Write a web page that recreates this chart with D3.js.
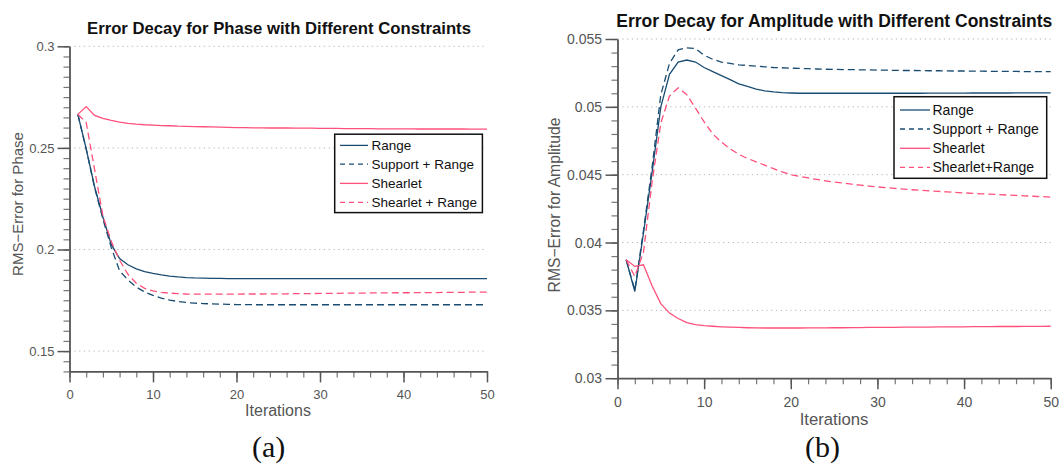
<!DOCTYPE html>
<html>
<head>
<meta charset="utf-8">
<script src="https://cdn.jsdelivr.net/npm/d3@7"></script>
<style>
  body { margin: 0; background: #fff; }
  svg { display: block; }
  text { font-family: "Liberation Sans", Arial, sans-serif; }
</style>
</head>
<body>
<svg id="fig" width="1062" height="466"></svg>
<script>
// Iteration index shared by both panels
const iterations = d3.range(1, 51);
const iterTicks = [0, 10, 20, 30, 40, 50];

// Panel (a): RMS error for phase
const phaseTicks = [0.15, 0.2, 0.25, 0.3];
const phaseRange = [
  0.2665, 0.2495, 0.2310, 0.2160, 0.2025, 0.1955, 0.1925, 0.1905, 0.1891, 0.1882,
  0.1875, 0.1869, 0.1865, 0.1862, 0.1860, 0.1859, 0.1858, 0.1858, 0.1857, 0.1857,
  0.1857, 0.1857, 0.1857, 0.1857, 0.1857, 0.1857, 0.1857, 0.1857, 0.1857, 0.1857,
  0.1857, 0.1857, 0.1857, 0.1857, 0.1857, 0.1857, 0.1857, 0.1857, 0.1857, 0.1857,
  0.1857, 0.1857, 0.1857, 0.1857, 0.1857, 0.1857, 0.1857, 0.1857, 0.1857, 0.1857
];
const phaseSupportRange = [
  0.2665, 0.2495, 0.2305, 0.2150, 0.2010, 0.1895, 0.1850, 0.1815, 0.1791, 0.1774,
  0.1761, 0.1751, 0.1744, 0.1739, 0.1736, 0.1734, 0.1732, 0.1731, 0.1730, 0.1729,
  0.1729, 0.1728, 0.1728, 0.1728, 0.1728, 0.1728, 0.1728, 0.1728, 0.1728, 0.1728,
  0.1728, 0.1728, 0.1728, 0.1728, 0.1728, 0.1728, 0.1728, 0.1728, 0.1728, 0.1728,
  0.1728, 0.1728, 0.1728, 0.1728, 0.1728, 0.1728, 0.1728, 0.1728, 0.1728, 0.1728
];
const phaseShearlet = [
  0.2665, 0.2703, 0.2660, 0.2645, 0.2635, 0.2627, 0.2621, 0.2617, 0.2614, 0.2612,
  0.2610, 0.2609, 0.2607, 0.2606, 0.2605, 0.2604, 0.2603, 0.2602, 0.2601, 0.2600,
  0.2600, 0.2599, 0.2599, 0.2598, 0.2598, 0.2598, 0.2597, 0.2597, 0.2597, 0.2596,
  0.2596, 0.2596, 0.2595, 0.2595, 0.2595, 0.2595, 0.2594, 0.2594, 0.2594, 0.2594,
  0.2594, 0.2593, 0.2593, 0.2593, 0.2593, 0.2593, 0.2593, 0.2592, 0.2592, 0.2592
];
const phaseShearletRange = [
  0.2665, 0.2625, 0.2395, 0.2165, 0.2040, 0.1947, 0.1878, 0.1834, 0.1809, 0.1796,
  0.1789, 0.1785, 0.1783, 0.1781, 0.1780, 0.1780, 0.1780, 0.1780, 0.1780, 0.1780,
  0.1781, 0.1781, 0.1781, 0.1782, 0.1782, 0.1782, 0.1783, 0.1783, 0.1783, 0.1784,
  0.1784, 0.1784, 0.1785, 0.1785, 0.1785, 0.1786, 0.1786, 0.1786, 0.1787, 0.1787,
  0.1787, 0.1788, 0.1788, 0.1788, 0.1789, 0.1789, 0.1789, 0.1790, 0.1790, 0.1790
];

// Panel (b): RMS error for amplitude
const ampTicks = [0.03, 0.035, 0.04, 0.045, 0.05, 0.055];
const ampRange = [
  0.03873, 0.03639, 0.0407, 0.0452, 0.0500, 0.0524, 0.0533, 0.05345, 0.0533, 0.0529,
  0.0526, 0.0523, 0.0520, 0.0517, 0.0515, 0.0513, 0.05118, 0.0511, 0.05105, 0.05102,
  0.0510, 0.0510, 0.0510, 0.0510, 0.0510, 0.0510, 0.0510, 0.0510, 0.0510, 0.0510,
  0.0510, 0.0510, 0.0510, 0.0510, 0.0510, 0.05101, 0.05101, 0.05101, 0.05101, 0.05101,
  0.05102, 0.05102, 0.05102, 0.05102, 0.05102, 0.05103, 0.05103, 0.05103, 0.05103, 0.05103
];
const ampSupportRange = [
  0.03873, 0.0365, 0.0409, 0.0456, 0.0509, 0.0532, 0.0542, 0.05435, 0.0543, 0.0538,
  0.0535, 0.0533, 0.0532, 0.0531, 0.05305, 0.0530, 0.05295, 0.0529, 0.05288, 0.05285,
  0.05283, 0.05281, 0.05279, 0.05277, 0.05276, 0.05275, 0.05274, 0.05273, 0.05272, 0.05271,
  0.0527, 0.05269, 0.05268, 0.05268, 0.05267, 0.05266, 0.05266, 0.05265, 0.05264, 0.05264,
  0.05263, 0.05263, 0.05262, 0.05262, 0.05261, 0.05261, 0.0526, 0.0526, 0.05259, 0.05259
];
const ampShearlet = [
  0.03873, 0.03824, 0.03836, 0.0368, 0.0355, 0.0348, 0.0344, 0.0341, 0.03395, 0.03388,
  0.03383, 0.03379, 0.03376, 0.03374, 0.03372, 0.03371, 0.0337, 0.0337, 0.0337, 0.0337,
  0.0337, 0.03371, 0.03371, 0.03371, 0.03372, 0.03372, 0.03373, 0.03373, 0.03374, 0.03374,
  0.03375, 0.03375, 0.03376, 0.03376, 0.03377, 0.03377, 0.03378, 0.03378, 0.03379, 0.03379,
  0.0338, 0.0338, 0.0338, 0.03381, 0.03381, 0.03381, 0.03382, 0.03382, 0.03382, 0.03383
];
const ampShearletRange = [
  0.03873, 0.0375, 0.0393, 0.0445, 0.0488, 0.0508, 0.0514, 0.0509, 0.0499, 0.0489,
  0.0480, 0.0474, 0.0469, 0.0465, 0.0462, 0.04595, 0.0457, 0.04545, 0.0452, 0.0450,
  0.04488, 0.04476, 0.04465, 0.04455, 0.04446, 0.04438, 0.0443, 0.04423, 0.04416, 0.0441,
  0.04404, 0.04399, 0.04394, 0.04389, 0.04385, 0.04381, 0.04377, 0.04373, 0.04369, 0.04366,
  0.04362, 0.04359, 0.04356, 0.04353, 0.0435, 0.04347, 0.04344, 0.04341, 0.04338, 0.04335
];

const BLUE = "#1a4c72";
const PINK = "#ff4f7b";
const DASH = "7,4";

const svg = d3.select("#fig");

function drawPanel(p) {
  const x = d3.scaleLinear().domain([0, 50]).range([p.x0, p.x1]);
  const y = d3.scaleLinear().domain(p.yDomain).range([p.yBot, p.yTop]);
  const g = svg.append("g");

  // dotted horizontal grid at major ticks
  g.append("g").selectAll("line")
    .data(p.yTicks.filter(v => v > p.yDomain[0]))
    .join("line")
    .attr("x1", p.x0).attr("x2", p.x1)
    .attr("y1", d => y(d)).attr("y2", d => y(d))
    .attr("stroke", "#b4b4b4").attr("stroke-width", 1)
    .attr("stroke-dasharray", "1.2,3.6");

  // data curves
  const line = d3.line().x((d, i) => x(iterations[i])).y(d => y(d));
  p.series.forEach(s => {
    g.append("path")
      .datum(s.values)
      .attr("d", line)
      .attr("fill", "none")
      .attr("stroke", s.color)
      .attr("stroke-width", 1.3)
      .attr("stroke-dasharray", s.dashed ? DASH : null);
  });

  // minor ticks
  const yMinor = d3.range(p.yDomain[0], p.yDomain[1] + p.yMinorStep / 2, p.yMinorStep);
  const xMinor = d3.range(0, 50.5, 2);
  g.append("g")
    .attr("transform", `translate(${p.x0},0)`)
    .call(d3.axisLeft(y).tickValues(yMinor).tickSize(6).tickFormat(""))
    .call(a => a.select(".domain").remove())
    .call(a => a.selectAll("line").attr("stroke", "#777").attr("stroke-width", 1.2));
  g.append("g")
    .attr("transform", `translate(0,${p.yBot})`)
    .call(d3.axisBottom(x).tickValues(xMinor).tickSize(6).tickFormat(""))
    .call(a => a.select(".domain").remove())
    .call(a => a.selectAll("line").attr("stroke", "#777").attr("stroke-width", 1.2));

  // major axes
  const yAxis = g.append("g")
    .attr("transform", `translate(${p.x0},0)`)
    .call(d3.axisLeft(y).tickValues(p.yTicks).tickSize(12).tickSizeOuter(0)
      .tickPadding(p.yPad).tickFormat(d => String(d)));
  const xAxis = g.append("g")
    .attr("transform", `translate(0,${p.yBot})`)
    .call(d3.axisBottom(x).tickValues(iterTicks).tickSize(11).tickSizeOuter(0)
      .tickPadding(p.xPad).tickFormat(d => String(d)));
  [yAxis, xAxis].forEach(a => {
    a.select(".domain").attr("stroke", "#555").attr("stroke-width", 1.8);
    a.selectAll(".tick line").attr("stroke", "#555").attr("stroke-width", 1.5);
    a.selectAll(".tick text")
      .attr("fill", "#555")
      .style("font-family", '"Liberation Sans", Arial, sans-serif')
      .style("font-size", p.tickSize + "px");
  });

  // titles and labels
  g.append("text")
    .attr("x", p.title.x).attr("y", p.title.y)
    .attr("text-anchor", "middle")
    .style("font-weight", "bold").style("font-size", p.title.size + "px")
    .attr("fill", "#111").text(p.title.text);
  g.append("text")
    .attr("transform", `translate(${p.ylab.x},${p.ylab.y}) rotate(-90)`)
    .attr("text-anchor", "middle")
    .style("font-size", p.ylab.size + "px")
    .attr("fill", "#555").text(p.ylab.text);
  g.append("text")
    .attr("x", p.xlab.x).attr("y", p.xlab.y)
    .attr("text-anchor", "middle")
    .style("font-size", p.xlab.size + "px")
    .attr("fill", "#555").text("Iterations");
  g.append("text")
    .attr("x", p.caption.x).attr("y", p.caption.y)
    .attr("text-anchor", "middle")
    .style("font-family", '"Liberation Serif", "DejaVu Serif", serif')
    .style("font-size", "30px")
    .attr("fill", "#111").text(p.caption.text);

  // legend
  const L = p.legend;
  const lg = g.append("g");
  lg.append("rect")
    .attr("x", L.x).attr("y", L.y).attr("width", L.w).attr("height", L.h)
    .attr("fill", "#fff").attr("stroke", "#111").attr("stroke-width", 1.5);
  p.series.forEach((s, i) => {
    const cy = L.rows[i];
    lg.append("line")
      .attr("x1", L.sx0).attr("x2", L.sx1).attr("y1", cy).attr("y2", cy)
      .attr("stroke", s.color).attr("stroke-width", 1.3)
      .attr("stroke-dasharray", s.dashed ? "5,4" : null);
    lg.append("text")
      .attr("x", L.tx).attr("y", cy).attr("dy", "0.35em")
      .style("font-size", L.size + "px")
      .attr("fill", "#111").text(s.name);
  });
}

drawPanel({
  x0: 69.5, x1: 487, yTop: 46.3, yBot: 371.4,
  yDomain: [0.14, 0.3], yTicks: phaseTicks, yMinorStep: 0.005,
  yPad: 3, xPad: 7, tickSize: 13,
  series: [
    { name: "Range", values: phaseRange, color: BLUE, dashed: false },
    { name: "Support + Range", values: phaseSupportRange, color: BLUE, dashed: true },
    { name: "Shearlet", values: phaseShearlet, color: PINK, dashed: false },
    { name: "Shearlet + Range", values: phaseShearletRange, color: PINK, dashed: true }
  ],
  title: { text: "Error Decay for Phase with Different Constraints", x: 279, y: 34, size: 16.7 },
  ylab: { text: "RMS\u2212Error for Phase", x: 23, y: 204, size: 15 },
  xlab: { x: 278, y: 416, size: 16 },
  caption: { text: "(a)", x: 268.7, y: 457 },
  legend: { x: 334.7, y: 134.2, w: 147.7, h: 78.4, rows: [145.4, 164.1, 183.4, 202.4],
            sx0: 340, sx1: 368, tx: 371.5, size: 13.5 }
});

drawPanel({
  x0: 617.5, x1: 1050.7, yTop: 39, yBot: 378.2,
  yDomain: [0.03, 0.055], yTicks: ampTicks, yMinorStep: 0.001,
  yPad: 3.5, xPad: 7.5, tickSize: 14,
  series: [
    { name: "Range", values: ampRange, color: BLUE, dashed: false },
    { name: "Support + Range", values: ampSupportRange, color: BLUE, dashed: true },
    { name: "Shearlet", values: ampShearlet, color: PINK, dashed: false },
    { name: "Shearlet+Range", values: ampShearletRange, color: PINK, dashed: true }
  ],
  title: { text: "Error Decay for Amplitude with Different Constraints", x: 834.3, y: 27, size: 17.5 },
  ylab: { text: "RMS\u2212Error for Amplitude", x: 560, y: 205, size: 15.7 },
  xlab: { x: 834, y: 424.6, size: 16.7 },
  caption: { text: "(b)", x: 822.5, y: 457 },
  legend: { x: 894, y: 96.7, w: 152.7, h: 81.6, rows: [110, 129, 148.3, 167.3],
            sx0: 900, sx1: 930, tx: 932.5, size: 14 }
});
</script>
</body>
</html>
